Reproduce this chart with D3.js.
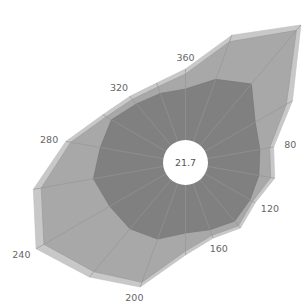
<!doctype html>
<html>
<head>
<style>
  body { margin: 0; background: #fff; }
  text { font-family: "DejaVu Sans", sans-serif; fill: #666; }
</style>
<script src="https://d3js.org/d3.v7.min.js"></script>
</head>
<body>
<svg width="305" height="304"></svg>
<script>

// wind directions (degrees, clockwise from north) and the three stacked bands
var directions = [0, 20, 40, 60, 80, 100, 120, 140, 160, 180, 200, 220, 240, 260, 280, 300, 320, 340];
var inner  = [5.1, 6.6, 8.0, 5.8, 5.3, 5.2, 5.2, 5.4, 4.9, 4.8, 5.9, 6.4, 6.5, 7.1, 6.4, 6.3, 5.4, 5.1];
var middle = [1.5, 4.0, 7.0, 3.6, 1.0, 1.2, 0.3, 0.6, 0.6, 1.8, 4.6, 5.6, 7.6, 5.3, 3.0, 0.6, 0.6, 0.7];
var outer  = [0.5, 0.7, 0.7, 0.7, 0.4, 0.4, 0.3, 0.3, 0.3, 0.4, 0.5, 0.7, 0.9, 0.8, 0.5, 0.4, 0.4, 0.4];
var tickLabels = ["40", "80", "120", "160", "200", "240", "280", "320", "360"];
var calm = "21.7";

var svg = d3.select("svg"),
    cx = 185.5,
    cy = 162.5;

var rScale = d3.scaleLinear().domain([0, 16]).range([22.5, 182.5]);
var rad = function(d) { return d * Math.PI / 180; };

var c1 = inner.slice(),
    c2 = inner.map(function(v, i) { return v + middle[i]; }),
    c3 = c2.map(function(v, i) { return v + outer[i]; });

var g = svg.append("g").attr("transform", "translate(" + cx + "," + cy + ")");

var line = d3.lineRadial().curve(d3.curveLinearClosed);

function ring(vals) {
  return line(directions.map(function(d, i) { return [rad(d), rScale(vals[i])]; }));
}

g.append("path").attr("d", ring(c3)).attr("fill", "#c8c8c8").attr("stroke", "#bdbdbd").attr("stroke-width", 0.6);
g.append("path").attr("d", ring(c2)).attr("fill", "#a8a8a8").attr("stroke", "#9c9c9c").attr("stroke-width", 0.7);
g.append("path").attr("d", ring(c1)).attr("fill", "#808080").attr("stroke", "#777").attr("stroke-width", 0.7);

// spokes: lighter inside the dark band, darker outside it
var pt = function(a, r) { return [r * Math.sin(rad(a)), -r * Math.cos(rad(a))]; };

g.selectAll(".spokeIn")
  .data(directions).enter()
  .append("line")
  .attr("class", "spokeIn")
  .attr("x1", function(d) { return pt(d, rScale(0))[0]; })
  .attr("y1", function(d) { return pt(d, rScale(0))[1]; })
  .attr("x2", function(d, i) { return pt(d, rScale(c1[i]))[0]; })
  .attr("y2", function(d, i) { return pt(d, rScale(c1[i]))[1]; })
  .attr("stroke", "#939393")
  .attr("stroke-width", 0.7);

g.selectAll(".spokeOut")
  .data(directions).enter()
  .append("line")
  .attr("class", "spokeOut")
  .attr("x1", function(d, i) { return pt(d, rScale(c1[i]))[0]; })
  .attr("y1", function(d, i) { return pt(d, rScale(c1[i]))[1]; })
  .attr("x2", function(d, i) { return pt(d, rScale(c3[i]))[0]; })
  .attr("y2", function(d, i) { return pt(d, rScale(c3[i]))[1]; })
  .attr("stroke", "#979797")
  .attr("stroke-width", 0.7);

// calm hole
g.append("circle").attr("r", rScale(0)).attr("fill", "#fff");
g.append("text")
  .attr("text-anchor", "middle")
  .attr("dy", "0.35em")
  .attr("font-size", "9.5px")
  .style("fill", "#555")
  .text(calm);

// direction labels just outside the outer band
g.selectAll(".lab")
  .data(tickLabels).enter()
  .append("text")
  .attr("class", "lab")
  .attr("font-size", "9.5px")
  .attr("text-anchor", "middle")
  .attr("dy", "0.35em")
  .attr("x", function(d) {
    var a = (+d) % 360, i = directions.indexOf(a);
    return pt(a, rScale(c3[i]) + 11)[0] + 6 * Math.sin(rad(a));
  })
  .attr("y", function(d) {
    var a = (+d) % 360, i = directions.indexOf(a);
    return pt(a, rScale(c3[i]) + 11)[1];
  })
  .text(function(d) { return d; });

</script>
</body>
</html>
